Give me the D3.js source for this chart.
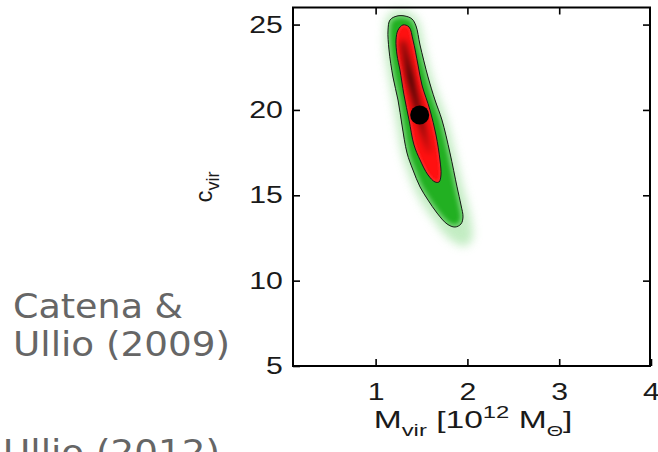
<!DOCTYPE html>
<html>
<head>
<meta charset="utf-8">
<script src="https://cdn.jsdelivr.net/npm/d3@7"></script>
<style>
  body { margin: 0; background: #fff; }
  svg { display: block; }
</style>
</head>
<body>
<svg id="chart" width="658" height="452"></svg>
<script>
'use strict';

// axis setup
const xTicks = [1, 2, 3, 4];
const yTicks = [5, 10, 15, 20, 25];
const xDomain = [0.1, 4];
const yDomain = [5, 26];

// best fit point [M_vir, c_vir]
const bestFit = [1.48, 19.7];

// contours, [M_vir, c_vir]
const haloContour = [
  [1.102, 24.68], [1.135, 25.56], [1.233, 25.80], [1.331, 25.80], [1.429, 25.50],
  [1.484, 24.92], [1.527, 23.80], [1.614, 21.93], [1.701, 20.58], [1.778, 19.41],
  [1.865, 17.48], [1.952, 15.49], [2.006, 14.43], [2.050, 13.26], [2.050, 12.38],
  [1.974, 12.03], [1.865, 12.21], [1.756, 12.67], [1.647, 13.44], [1.538, 14.26],
  [1.429, 15.31], [1.353, 16.37], [1.287, 17.48], [1.233, 19.12], [1.189, 20.58],
  [1.146, 21.93], [1.102, 23.51],
];
const outerContour = [
  [1.135, 24.68], [1.157, 25.27], [1.233, 25.50], [1.320, 25.50], [1.396, 25.33],
  [1.440, 24.92], [1.484, 23.80], [1.571, 21.93], [1.647, 20.58], [1.723, 19.41],
  [1.810, 17.48], [1.887, 15.49], [1.930, 14.43], [1.952, 13.73], [1.930, 13.32],
  [1.865, 13.14], [1.778, 13.32], [1.669, 13.96], [1.571, 14.72], [1.484, 15.49],
  [1.407, 16.48], [1.342, 17.48], [1.287, 19.12], [1.244, 20.58], [1.189, 21.93],
  [1.146, 23.51],
];
const innerContour = [
  [1.222, 24.10], [1.244, 24.68], [1.298, 24.98], [1.364, 24.86], [1.407, 24.10],
  [1.462, 22.63], [1.505, 21.46], [1.592, 20.00], [1.658, 18.53], [1.701, 17.07],
  [1.712, 16.19], [1.691, 15.78], [1.647, 15.78], [1.571, 16.19], [1.484, 17.07],
  [1.418, 17.95], [1.364, 19.41], [1.309, 20.88], [1.265, 22.34], [1.233, 23.22],
];
// darkest ridge of the likelihood
const ridgeLine = [
  [1.300, 23.9], [1.340, 22.9], [1.390, 21.6], [1.451, 20.29],
  [1.516, 18.83], [1.580, 17.6],
];

const captionLines = ['Catena &', 'Ullio (2009)', 'Ullio (2012)'];

const svg = d3.select('#chart');
const x = d3.scaleLinear().domain(xDomain).range([293, 651]);
const y = d3.scaleLinear().domain(yDomain).range([366, 7.5]);

const defs = svg.append('defs');
const blur = (id, sd) => defs.append('filter').attr('id', id)
  .attr('x', '-50%').attr('y', '-50%').attr('width', '200%').attr('height', '200%')
  .append('feGaussianBlur').attr('stdDeviation', sd);
blur('b1', 1);
blur('b2', 2);
blur('b3', 3);
blur('b5', 5);
defs.append('clipPath').attr('id', 'clipOuter').append('path');
defs.append('clipPath').attr('id', 'clipInner').append('path');

const grad = defs.append('linearGradient').attr('id', 'ridgeGrad')
  .attr('gradientUnits', 'userSpaceOnUse')
  .attr('x1', 0).attr('x2', 0).attr('y1', y(24.5)).attr('y2', y(17));
grad.append('stop').attr('offset', '0').attr('stop-color', '#000').attr('stop-opacity', 0.3);
grad.append('stop').attr('offset', '0.35').attr('stop-color', '#000').attr('stop-opacity', 0.9);
grad.append('stop').attr('offset', '0.7').attr('stop-color', '#000').attr('stop-opacity', 0.55);
grad.append('stop').attr('offset', '1').attr('stop-color', '#000').attr('stop-opacity', 0);

const closed = d3.line()
  .x((d) => x(d[0]))
  .y((d) => y(d[1]))
  .curve(d3.curveCatmullRomClosed.alpha(0.5));
const open = d3.line()
  .x((d) => x(d[0]))
  .y((d) => y(d[1]))
  .curve(d3.curveCatmullRom.alpha(0.5));

defs.select('#clipOuter path').attr('d', closed(outerContour));
defs.select('#clipInner path').attr('d', closed(innerContour));

const plot = svg.append('g');

// soft green halo
plot.append('path').attr('d', closed(haloContour))
  .attr('fill', '#b4e8b4').attr('opacity', 0.8).attr('filter', 'url(#b5)');
// 95% region
plot.append('path').attr('d', closed(outerContour))
  .attr('fill', '#22b022');
plot.append('g').attr('clip-path', 'url(#clipOuter)')
  .append('path').attr('d', closed(outerContour))
  .attr('fill', 'none').attr('stroke', '#7ed77e').attr('stroke-width', 5)
  .attr('filter', 'url(#b2)');
// 68% region
const inner = plot.append('g').attr('clip-path', 'url(#clipInner)');
inner.append('path').attr('d', closed(innerContour))
  .attr('fill', '#ff1010');
inner.append('path').attr('d', closed(innerContour))
  .attr('fill', 'none').attr('stroke', '#ff2a2a').attr('stroke-width', 4)
  .attr('filter', 'url(#b1)');
inner.append('path').attr('d', open(ridgeLine))
  .attr('fill', 'none').attr('stroke', 'url(#ridgeGrad)').attr('stroke-width', 6)
  .attr('stroke-linecap', 'round').attr('filter', 'url(#b3)');

// contour lines
plot.selectAll('path.contour')
  .data([outerContour, innerContour])
  .enter().append('path')
  .attr('class', 'contour')
  .attr('d', (d) => closed(d))
  .attr('fill', 'none').attr('stroke', '#1a1a1a').attr('stroke-width', 1);

// best fit
plot.append('circle')
  .attr('cx', x(bestFit[0])).attr('cy', y(bestFit[1]))
  .attr('r', 9.5).attr('fill', '#000');

// frame + inward ticks
const [x0, x1] = x.range();
const [yb, yt] = y.range();
svg.append('rect')
  .attr('x', x0).attr('y', yt).attr('width', x1 - x0 - 1).attr('height', yb - yt)
  .attr('fill', 'none').attr('stroke', '#000').attr('stroke-width', 2);

const styleAxis = (g) => {
  g.select('.domain').remove();
  g.selectAll('.tick line').attr('stroke', '#000').attr('stroke-width', 1.6);
  g.selectAll('.tick text')
    .attr('font-family', '"Liberation Sans", Arial, sans-serif')
    .attr('font-size', 24).attr('fill', '#1a1a1a')
    .attr('transform', 'scale(1.26,1)');
};
const fmt = d3.format('d');

svg.append('g').attr('transform', `translate(0,${yb})`)
  .call(d3.axisBottom(x).tickValues(xTicks).tickFormat(fmt)
    .tickSizeInner(-7).tickSizeOuter(0).tickPadding(17))
  .call(styleAxis);
svg.append('g').attr('transform', `translate(0,${yt})`)
  .call(d3.axisTop(x).tickValues(xTicks.slice(0, 3)).tickFormat(() => '')
    .tickSizeInner(-7).tickSizeOuter(0))
  .call(styleAxis);
svg.append('g').attr('transform', `translate(${x0},0)`)
  .call(d3.axisLeft(y).tickValues(yTicks).tickFormat(fmt)
    .tickSizeInner(-7).tickSizeOuter(0).tickPadding(8))
  .call(styleAxis);
svg.append('g').attr('transform', `translate(${x1 - 1},0)`)
  .call(d3.axisRight(y).tickValues(yTicks.slice(1)).tickFormat(() => '')
    .tickSizeInner(-7).tickSizeOuter(0))
  .call(styleAxis);

// axis titles
const xt = svg.append('text')
  .attr('transform', 'translate(473,428) scale(1.4,1)')
  .attr('text-anchor', 'middle')
  .attr('font-family', '"Liberation Sans", Arial, sans-serif')
  .attr('font-size', 24).attr('fill', '#1a1a1a');
xt.append('tspan').text('M');
xt.append('tspan').attr('font-size', 17).attr('dy', 8).text('vir');
xt.append('tspan').attr('dy', -8).text(' [10');
xt.append('tspan').attr('font-size', 17).attr('dy', -10).text('12');
xt.append('tspan').attr('dy', 10).text(' M');
xt.append('tspan').attr('font-size', 15).attr('dy', 8).text('Θ');
xt.append('tspan').attr('dy', -8).text(']');

const yt2 = svg.append('text')
  .attr('transform', 'translate(212,187) rotate(-90)')
  .attr('text-anchor', 'middle')
  .attr('font-family', '"Liberation Sans", Arial, sans-serif')
  .attr('font-size', 24).attr('fill', '#1a1a1a');
yt2.append('tspan').text('c');
yt2.append('tspan').attr('font-size', 18).attr('dy', 7).text('vir');

// slide captions
const capPos = [[13, 318, 170], [13, 356, 217], [3, 464, 217]];
svg.selectAll('text.cap')
  .data(captionLines)
  .enter().append('text')
  .attr('class', 'cap')
  .attr('x', (d, i) => capPos[i][0])
  .attr('y', (d, i) => capPos[i][1])
  .attr('textLength', (d, i) => capPos[i][2])
  .attr('lengthAdjust', 'spacingAndGlyphs')
  .attr('font-family', '"DejaVu Sans", Verdana, sans-serif')
  .attr('font-size', 33).attr('fill', '#666')
  .text((d) => d);
</script>
</body>
</html>
